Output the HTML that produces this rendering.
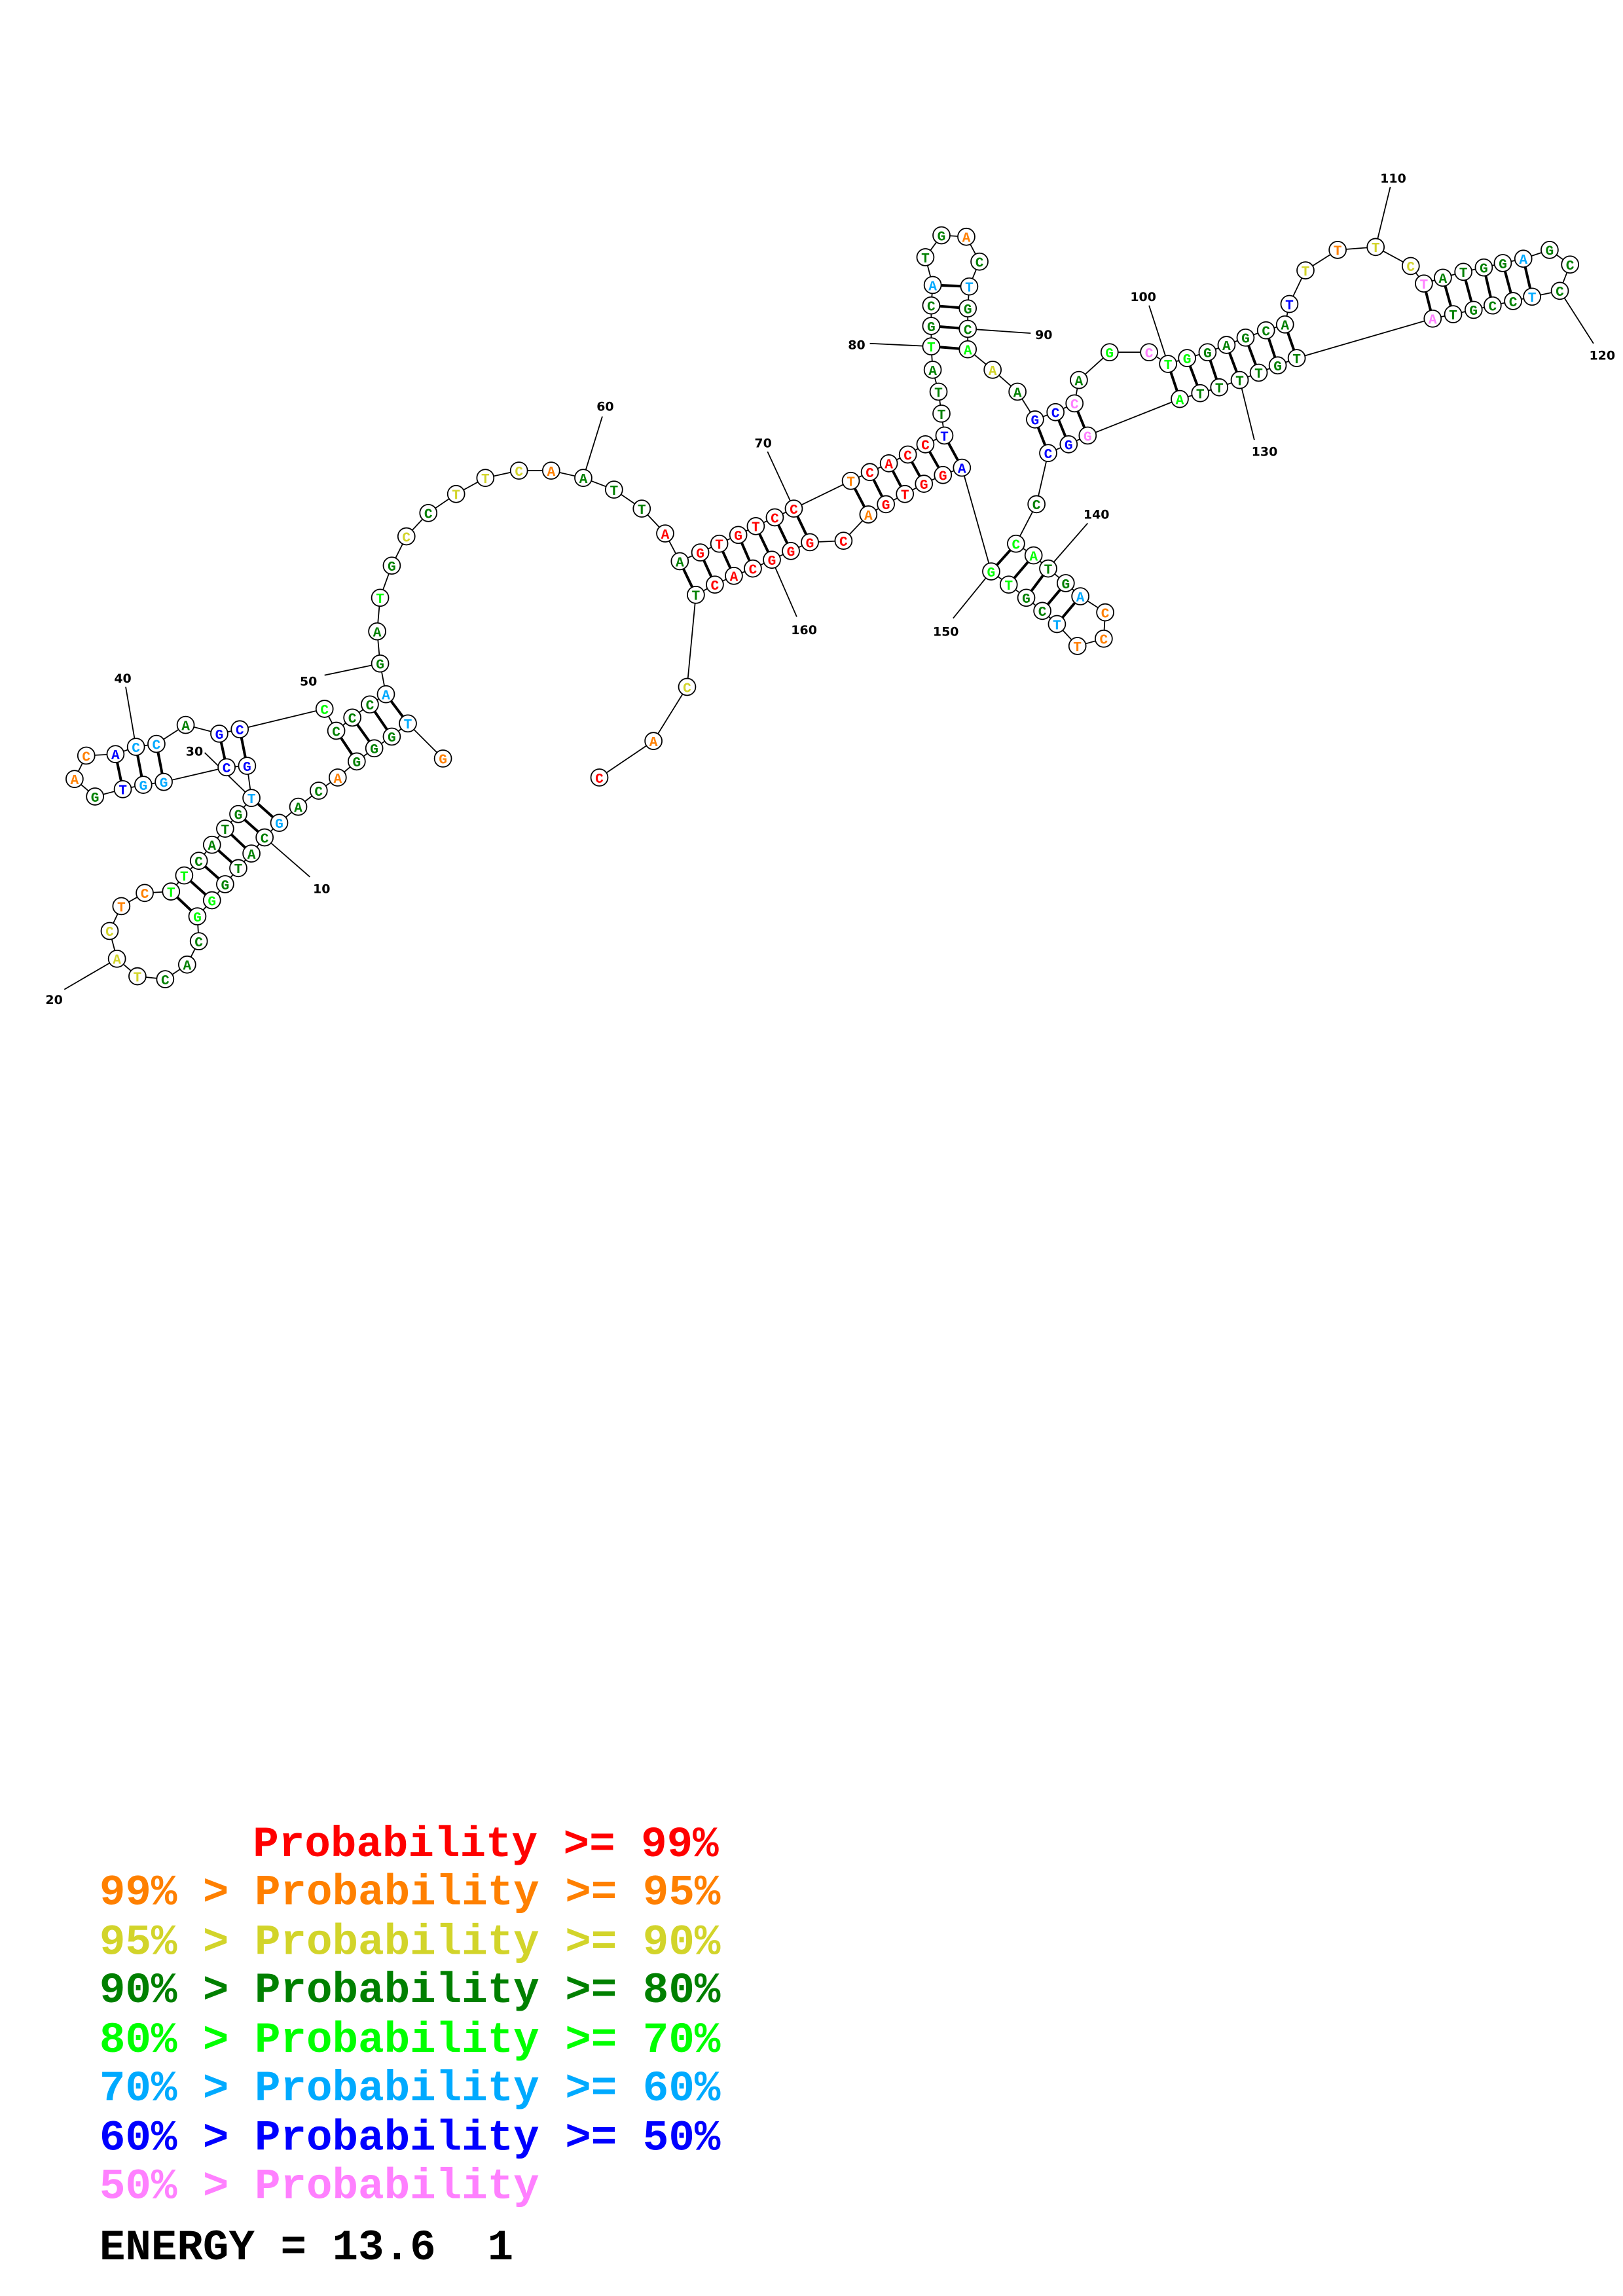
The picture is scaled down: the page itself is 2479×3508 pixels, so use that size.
<!DOCTYPE html>
<html><head><meta charset="utf-8"><style>
html,body{margin:0;padding:0;background:#fff}
svg{display:block}
.b{stroke:#000;stroke-width:0.8;fill:none}
.p{stroke:#000;stroke-width:1.8;fill:none}
circle{fill:#fff;stroke:#000;stroke-width:0.8}
.n text{font-family:"Liberation Mono",monospace;font-weight:bold;font-size:9.5px;text-anchor:middle}
.lab{font-family:"DejaVu Sans","Liberation Sans",sans-serif;font-weight:bold;font-size:8.5px;fill:#000;text-anchor:middle}
.r{fill:#ff0000}.o{fill:#ff8000}.y{fill:#d2d42a}.g{fill:#008000}.l{fill:#00ff00}.c{fill:#00aaff}.u{fill:#0000ff}.k{fill:#ff80ff}
.lg{font-family:"Liberation Mono",monospace;font-weight:bold;font-size:29.5px}
</style></head><body>
<svg width="2479" height="3508" viewBox="0 0 1110.2 1571" xmlns="http://www.w3.org/2000/svg">
<polyline class="b" points="303,519 279,495 268,504 256,512 244,521 231,532 218,541 204,552 191,563 181,573 172,584 163,594 154,605 145,616 135,627 136,644 128,660 113,670 94,668 80,656 75,637 83,620 99,611 117,610 126,599 136,589 145,578 154,567 163,557 172,546 169,524 155,525 112,535 98,537 84,540 65,545 51,533 59,517 79,516 93,511 107,509 127,496 150,502 164,499 222,485 230,500 241,491 253,482 264,475 260,454 258,432 260,409 268,387 278,367 293,351 312,338 332,327 355,322 377,322 399,327 420,335 439,348 455,365 465,384 479,378 492,372 505,366 517,360 530,354 543,348 582,329 595,323 608,317 621,311 633,304 646,298 644,283 642,268 638,253 637,237 637,223 637,209 638,195 633,176 644,161 661,162 670,179 663,196 662,211 662,225 662,239 679,253 696,268 708,287 722,282 735,276 738,260 759,241 786,241 799,249 812,245 826,241 839,236 852,231 866,226 879,222 882,208 893,185 915,171 941,169 965,182 974,194 987,190 1001,186 1015,183 1028,180 1042,177 1060,171 1074,181 1067,199 1048,203 1035,206 1021,209 1008,212 994,215 980,218 887,245 874,250 861,255 848,260 834,265 821,269 807,273 744,298 731,304 717,310 709,345 695,372 707,380 717,389 729,399 739,408 756,419 755,437 737,442 723,427 713,418 702,409 690,400 678,391 658,320 645,325 632,331 619,338 606,345 594,352 577,370 554,371 541,377 528,383 515,389 502,394 489,400 476,407 470,470 447,507 410,532"/>
<g class="p">
<line x1="279" y1="495" x2="264" y2="475"/><line x1="268" y1="504" x2="253" y2="482"/><line x1="256" y1="512" x2="241" y2="491"/><line x1="244" y1="521" x2="230" y2="500"/>
<line x1="191" y1="563" x2="172" y2="546"/><line x1="181" y1="573" x2="163" y2="557"/><line x1="172" y1="584" x2="154" y2="567"/><line x1="163" y1="594" x2="145" y2="578"/><line x1="154" y1="605" x2="136" y2="589"/><line x1="145" y1="616" x2="126" y2="599"/><line x1="135" y1="627" x2="117" y2="610"/>
<line x1="169" y1="524" x2="164" y2="499"/><line x1="155" y1="525" x2="150" y2="502"/>
<line x1="112" y1="535" x2="107" y2="509"/><line x1="98" y1="537" x2="93" y2="511"/><line x1="84" y1="540" x2="79" y2="516"/>
<line x1="465" y1="384" x2="476" y2="407"/><line x1="479" y1="378" x2="489" y2="400"/><line x1="492" y1="372" x2="502" y2="394"/><line x1="505" y1="366" x2="515" y2="389"/><line x1="517" y1="360" x2="528" y2="383"/><line x1="530" y1="354" x2="541" y2="377"/><line x1="543" y1="348" x2="554" y2="371"/>
<line x1="582" y1="329" x2="594" y2="352"/><line x1="595" y1="323" x2="606" y2="345"/><line x1="608" y1="317" x2="619" y2="338"/><line x1="621" y1="311" x2="632" y2="331"/><line x1="633" y1="304" x2="645" y2="325"/><line x1="646" y1="298" x2="658" y2="320"/>
<line x1="637" y1="237" x2="662" y2="239"/><line x1="637" y1="223" x2="662" y2="225"/><line x1="637" y1="209" x2="662" y2="211"/><line x1="638" y1="195" x2="663" y2="196"/>
<line x1="708" y1="287" x2="717" y2="310"/><line x1="722" y1="282" x2="731" y2="304"/><line x1="735" y1="276" x2="744" y2="298"/>
<line x1="799" y1="249" x2="807" y2="273"/><line x1="812" y1="245" x2="821" y2="269"/><line x1="826" y1="241" x2="834" y2="265"/><line x1="839" y1="236" x2="848" y2="260"/><line x1="852" y1="231" x2="861" y2="255"/><line x1="866" y1="226" x2="874" y2="250"/><line x1="879" y1="222" x2="887" y2="245"/>
<line x1="974" y1="194" x2="980" y2="218"/><line x1="987" y1="190" x2="994" y2="215"/><line x1="1001" y1="186" x2="1008" y2="212"/><line x1="1015" y1="183" x2="1021" y2="209"/><line x1="1028" y1="180" x2="1035" y2="206"/><line x1="1042" y1="177" x2="1048" y2="203"/>
<line x1="695" y1="372" x2="678" y2="391"/><line x1="707" y1="380" x2="690" y2="400"/><line x1="717" y1="389" x2="702" y2="409"/><line x1="729" y1="399" x2="713" y2="418"/><line x1="739" y1="408" x2="723" y2="427"/>
</g>
<g class="b">
<line x1="181" y1="573" x2="212" y2="600"/><line x1="80" y1="656" x2="44" y2="677"/><line x1="140" y1="515" x2="172" y2="546"/><line x1="93" y1="511" x2="86" y2="470"/><line x1="222" y1="462" x2="260" y2="454"/><line x1="399" y1="327" x2="412" y2="285"/><line x1="543" y1="348" x2="525" y2="309"/><line x1="637" y1="237" x2="595" y2="235"/><line x1="662" y1="225" x2="705" y2="228"/><line x1="799" y1="249" x2="786" y2="209"/><line x1="941" y1="169" x2="951" y2="128"/><line x1="1067" y1="199" x2="1090" y2="235"/><line x1="848" y1="260" x2="858" y2="301"/><line x1="717" y1="389" x2="744" y2="358"/><line x1="678" y1="391" x2="652" y2="423"/><line x1="528" y1="383" x2="545" y2="422"/>
</g>
<g class="lab">
<text x="220" y="611">10</text><text x="37" y="687">20</text><text x="133" y="517">30</text><text x="84" y="467">40</text><text x="211" y="469">50</text><text x="414" y="281">60</text><text x="522" y="306">70</text><text x="586" y="239">80</text><text x="714" y="232">90</text><text x="782" y="206">100</text><text x="953" y="125">110</text><text x="1096" y="246">120</text><text x="865" y="312">130</text><text x="750" y="355">140</text><text x="647" y="435">150</text><text x="550" y="434">160</text>
</g>
<g class="n">
<circle cx="303" cy="519" r="5.8"/><circle cx="279" cy="495" r="5.8"/><circle cx="268" cy="504" r="5.8"/><circle cx="256" cy="512" r="5.8"/><circle cx="244" cy="521" r="5.8"/><circle cx="231" cy="532" r="5.8"/><circle cx="218" cy="541" r="5.8"/><circle cx="204" cy="552" r="5.8"/><circle cx="191" cy="563" r="5.8"/><circle cx="181" cy="573" r="5.8"/>
<circle cx="172" cy="584" r="5.8"/><circle cx="163" cy="594" r="5.8"/><circle cx="154" cy="605" r="5.8"/><circle cx="145" cy="616" r="5.8"/><circle cx="135" cy="627" r="5.8"/><circle cx="136" cy="644" r="5.8"/><circle cx="128" cy="660" r="5.8"/><circle cx="113" cy="670" r="5.8"/><circle cx="94" cy="668" r="5.8"/><circle cx="80" cy="656" r="5.8"/>
<circle cx="75" cy="637" r="5.8"/><circle cx="83" cy="620" r="5.8"/><circle cx="99" cy="611" r="5.8"/><circle cx="117" cy="610" r="5.8"/><circle cx="126" cy="599" r="5.8"/><circle cx="136" cy="589" r="5.8"/><circle cx="145" cy="578" r="5.8"/><circle cx="154" cy="567" r="5.8"/><circle cx="163" cy="557" r="5.8"/><circle cx="172" cy="546" r="5.8"/>
<circle cx="169" cy="524" r="5.8"/><circle cx="155" cy="525" r="5.8"/><circle cx="112" cy="535" r="5.8"/><circle cx="98" cy="537" r="5.8"/><circle cx="84" cy="540" r="5.8"/><circle cx="65" cy="545" r="5.8"/><circle cx="51" cy="533" r="5.8"/><circle cx="59" cy="517" r="5.8"/><circle cx="79" cy="516" r="5.8"/><circle cx="93" cy="511" r="5.8"/>
<circle cx="107" cy="509" r="5.8"/><circle cx="127" cy="496" r="5.8"/><circle cx="150" cy="502" r="5.8"/><circle cx="164" cy="499" r="5.8"/><circle cx="222" cy="485" r="5.8"/><circle cx="230" cy="500" r="5.8"/><circle cx="241" cy="491" r="5.8"/><circle cx="253" cy="482" r="5.8"/><circle cx="264" cy="475" r="5.8"/><circle cx="260" cy="454" r="5.8"/>
<circle cx="258" cy="432" r="5.8"/><circle cx="260" cy="409" r="5.8"/><circle cx="268" cy="387" r="5.8"/><circle cx="278" cy="367" r="5.8"/><circle cx="293" cy="351" r="5.8"/><circle cx="312" cy="338" r="5.8"/><circle cx="332" cy="327" r="5.8"/><circle cx="355" cy="322" r="5.8"/><circle cx="377" cy="322" r="5.8"/><circle cx="399" cy="327" r="5.8"/>
<circle cx="420" cy="335" r="5.8"/><circle cx="439" cy="348" r="5.8"/><circle cx="455" cy="365" r="5.8"/><circle cx="465" cy="384" r="5.8"/><circle cx="479" cy="378" r="5.8"/><circle cx="492" cy="372" r="5.8"/><circle cx="505" cy="366" r="5.8"/><circle cx="517" cy="360" r="5.8"/><circle cx="530" cy="354" r="5.8"/><circle cx="543" cy="348" r="5.8"/>
<circle cx="582" cy="329" r="5.8"/><circle cx="595" cy="323" r="5.8"/><circle cx="608" cy="317" r="5.8"/><circle cx="621" cy="311" r="5.8"/><circle cx="633" cy="304" r="5.8"/><circle cx="646" cy="298" r="5.8"/><circle cx="644" cy="283" r="5.8"/><circle cx="642" cy="268" r="5.8"/><circle cx="638" cy="253" r="5.8"/><circle cx="637" cy="237" r="5.8"/>
<circle cx="637" cy="223" r="5.8"/><circle cx="637" cy="209" r="5.8"/><circle cx="638" cy="195" r="5.8"/><circle cx="633" cy="176" r="5.8"/><circle cx="644" cy="161" r="5.8"/><circle cx="661" cy="162" r="5.8"/><circle cx="670" cy="179" r="5.8"/><circle cx="663" cy="196" r="5.8"/><circle cx="662" cy="211" r="5.8"/><circle cx="662" cy="225" r="5.8"/>
<circle cx="662" cy="239" r="5.8"/><circle cx="679" cy="253" r="5.8"/><circle cx="696" cy="268" r="5.8"/><circle cx="708" cy="287" r="5.8"/><circle cx="722" cy="282" r="5.8"/><circle cx="735" cy="276" r="5.8"/><circle cx="738" cy="260" r="5.8"/><circle cx="759" cy="241" r="5.8"/><circle cx="786" cy="241" r="5.8"/><circle cx="799" cy="249" r="5.8"/>
<circle cx="812" cy="245" r="5.8"/><circle cx="826" cy="241" r="5.8"/><circle cx="839" cy="236" r="5.8"/><circle cx="852" cy="231" r="5.8"/><circle cx="866" cy="226" r="5.8"/><circle cx="879" cy="222" r="5.8"/><circle cx="882" cy="208" r="5.8"/><circle cx="893" cy="185" r="5.8"/><circle cx="915" cy="171" r="5.8"/><circle cx="941" cy="169" r="5.8"/>
<circle cx="965" cy="182" r="5.8"/><circle cx="974" cy="194" r="5.8"/><circle cx="987" cy="190" r="5.8"/><circle cx="1001" cy="186" r="5.8"/><circle cx="1015" cy="183" r="5.8"/><circle cx="1028" cy="180" r="5.8"/><circle cx="1042" cy="177" r="5.8"/><circle cx="1060" cy="171" r="5.8"/><circle cx="1074" cy="181" r="5.8"/><circle cx="1067" cy="199" r="5.8"/>
<circle cx="1048" cy="203" r="5.8"/><circle cx="1035" cy="206" r="5.8"/><circle cx="1021" cy="209" r="5.8"/><circle cx="1008" cy="212" r="5.8"/><circle cx="994" cy="215" r="5.8"/><circle cx="980" cy="218" r="5.8"/><circle cx="887" cy="245" r="5.8"/><circle cx="874" cy="250" r="5.8"/><circle cx="861" cy="255" r="5.8"/><circle cx="848" cy="260" r="5.8"/>
<circle cx="834" cy="265" r="5.8"/><circle cx="821" cy="269" r="5.8"/><circle cx="807" cy="273" r="5.8"/><circle cx="744" cy="298" r="5.8"/><circle cx="731" cy="304" r="5.8"/><circle cx="717" cy="310" r="5.8"/><circle cx="709" cy="345" r="5.8"/><circle cx="695" cy="372" r="5.8"/><circle cx="707" cy="380" r="5.8"/><circle cx="717" cy="389" r="5.8"/>
<circle cx="729" cy="399" r="5.8"/><circle cx="739" cy="408" r="5.8"/><circle cx="756" cy="419" r="5.8"/><circle cx="755" cy="437" r="5.8"/><circle cx="737" cy="442" r="5.8"/><circle cx="723" cy="427" r="5.8"/><circle cx="713" cy="418" r="5.8"/><circle cx="702" cy="409" r="5.8"/><circle cx="690" cy="400" r="5.8"/><circle cx="678" cy="391" r="5.8"/>
<circle cx="658" cy="320" r="5.8"/><circle cx="645" cy="325" r="5.8"/><circle cx="632" cy="331" r="5.8"/><circle cx="619" cy="338" r="5.8"/><circle cx="606" cy="345" r="5.8"/><circle cx="594" cy="352" r="5.8"/><circle cx="577" cy="370" r="5.8"/><circle cx="554" cy="371" r="5.8"/><circle cx="541" cy="377" r="5.8"/><circle cx="528" cy="383" r="5.8"/>
<circle cx="515" cy="389" r="5.8"/><circle cx="502" cy="394" r="5.8"/><circle cx="489" cy="400" r="5.8"/><circle cx="476" cy="407" r="5.8"/><circle cx="470" cy="470" r="5.8"/><circle cx="447" cy="507" r="5.8"/><circle cx="410" cy="532" r="5.8"/>

<text class="o" x="303" y="522.5">G</text><text class="c" x="279" y="498.5">T</text><text class="g" x="268" y="507.5">G</text><text class="g" x="256" y="515.5">G</text><text class="g" x="244" y="524.5">G</text><text class="o" x="231" y="535.5">A</text><text class="g" x="218" y="544.5">C</text><text class="g" x="204" y="555.5">A</text><text class="c" x="191" y="566.5">G</text><text class="g" x="181" y="576.5">C</text>
<text class="g" x="172" y="587.5">A</text><text class="g" x="163" y="597.5">T</text><text class="g" x="154" y="608.5">G</text><text class="l" x="145" y="619.5">G</text><text class="l" x="135" y="630.5">G</text><text class="g" x="136" y="647.5">C</text><text class="g" x="128" y="663.5">A</text><text class="g" x="113" y="673.5">C</text><text class="y" x="94" y="671.5">T</text><text class="y" x="80" y="659.5">A</text>
<text class="y" x="75" y="640.5">C</text><text class="o" x="83" y="623.5">T</text><text class="o" x="99" y="614.5">C</text><text class="l" x="117" y="613.5">T</text><text class="l" x="126" y="602.5">T</text><text class="g" x="136" y="592.5">C</text><text class="g" x="145" y="581.5">A</text><text class="g" x="154" y="570.5">T</text><text class="g" x="163" y="560.5">G</text><text class="c" x="172" y="549.5">T</text>
<text class="u" x="169" y="527.5">G</text><text class="u" x="155" y="528.5">C</text><text class="c" x="112" y="538.5">G</text><text class="c" x="98" y="540.5">G</text><text class="u" x="84" y="543.5">T</text><text class="g" x="65" y="548.5">G</text><text class="o" x="51" y="536.5">A</text><text class="o" x="59" y="520.5">C</text><text class="u" x="79" y="519.5">A</text><text class="c" x="93" y="514.5">C</text>
<text class="c" x="107" y="512.5">C</text><text class="g" x="127" y="499.5">A</text><text class="u" x="150" y="505.5">G</text><text class="u" x="164" y="502.5">C</text><text class="l" x="222" y="488.5">C</text><text class="g" x="230" y="503.5">C</text><text class="g" x="241" y="494.5">C</text><text class="g" x="253" y="485.5">C</text><text class="c" x="264" y="478.5">A</text><text class="g" x="260" y="457.5">G</text>
<text class="g" x="258" y="435.5">A</text><text class="l" x="260" y="412.5">T</text><text class="g" x="268" y="390.5">G</text><text class="y" x="278" y="370.5">C</text><text class="g" x="293" y="354.5">C</text><text class="y" x="312" y="341.5">T</text><text class="y" x="332" y="330.5">T</text><text class="y" x="355" y="325.5">C</text><text class="o" x="377" y="325.5">A</text><text class="g" x="399" y="330.5">A</text>
<text class="g" x="420" y="338.5">T</text><text class="g" x="439" y="351.5">T</text><text class="r" x="455" y="368.5">A</text><text class="g" x="465" y="387.5">A</text><text class="r" x="479" y="381.5">G</text><text class="r" x="492" y="375.5">T</text><text class="r" x="505" y="369.5">G</text><text class="r" x="517" y="363.5">T</text><text class="r" x="530" y="357.5">C</text><text class="r" x="543" y="351.5">C</text>
<text class="o" x="582" y="332.5">T</text><text class="r" x="595" y="326.5">C</text><text class="r" x="608" y="320.5">A</text><text class="r" x="621" y="314.5">C</text><text class="r" x="633" y="307.5">C</text><text class="u" x="646" y="301.5">T</text><text class="g" x="644" y="286.5">T</text><text class="g" x="642" y="271.5">T</text><text class="g" x="638" y="256.5">A</text><text class="l" x="637" y="240.5">T</text>
<text class="g" x="637" y="226.5">G</text><text class="g" x="637" y="212.5">C</text><text class="c" x="638" y="198.5">A</text><text class="g" x="633" y="179.5">T</text><text class="g" x="644" y="164.5">G</text><text class="o" x="661" y="165.5">A</text><text class="g" x="670" y="182.5">C</text><text class="c" x="663" y="199.5">T</text><text class="g" x="662" y="214.5">G</text><text class="g" x="662" y="228.5">C</text>
<text class="l" x="662" y="242.5">A</text><text class="y" x="679" y="256.5">A</text><text class="g" x="696" y="271.5">A</text><text class="u" x="708" y="290.5">G</text><text class="u" x="722" y="285.5">C</text><text class="k" x="735" y="279.5">C</text><text class="g" x="738" y="263.5">A</text><text class="l" x="759" y="244.5">G</text><text class="k" x="786" y="244.5">C</text><text class="l" x="799" y="252.5">T</text>
<text class="l" x="812" y="248.5">G</text><text class="g" x="826" y="244.5">G</text><text class="g" x="839" y="239.5">A</text><text class="g" x="852" y="234.5">G</text><text class="g" x="866" y="229.5">C</text><text class="g" x="879" y="225.5">A</text><text class="u" x="882" y="211.5">T</text><text class="y" x="893" y="188.5">T</text><text class="o" x="915" y="174.5">T</text><text class="y" x="941" y="172.5">T</text>
<text class="y" x="965" y="185.5">C</text><text class="k" x="974" y="197.5">T</text><text class="g" x="987" y="193.5">A</text><text class="g" x="1001" y="189.5">T</text><text class="g" x="1015" y="186.5">G</text><text class="g" x="1028" y="183.5">G</text><text class="c" x="1042" y="180.5">A</text><text class="g" x="1060" y="174.5">G</text><text class="g" x="1074" y="184.5">C</text><text class="g" x="1067" y="202.5">C</text>
<text class="c" x="1048" y="206.5">T</text><text class="g" x="1035" y="209.5">C</text><text class="g" x="1021" y="212.5">C</text><text class="g" x="1008" y="215.5">G</text><text class="g" x="994" y="218.5">T</text><text class="k" x="980" y="221.5">A</text><text class="g" x="887" y="248.5">T</text><text class="g" x="874" y="253.5">G</text><text class="g" x="861" y="258.5">T</text><text class="g" x="848" y="263.5">T</text>
<text class="g" x="834" y="268.5">T</text><text class="g" x="821" y="272.5">T</text><text class="l" x="807" y="276.5">A</text><text class="k" x="744" y="301.5">G</text><text class="u" x="731" y="307.5">G</text><text class="u" x="717" y="313.5">C</text><text class="g" x="709" y="348.5">C</text><text class="l" x="695" y="375.5">C</text><text class="l" x="707" y="383.5">A</text><text class="g" x="717" y="392.5">T</text>
<text class="g" x="729" y="402.5">G</text><text class="c" x="739" y="411.5">A</text><text class="o" x="756" y="422.5">C</text><text class="o" x="755" y="440.5">C</text><text class="o" x="737" y="445.5">T</text><text class="c" x="723" y="430.5">T</text><text class="g" x="713" y="421.5">C</text><text class="g" x="702" y="412.5">G</text><text class="l" x="690" y="403.5">T</text><text class="l" x="678" y="394.5">G</text>
<text class="u" x="658" y="323.5">A</text><text class="r" x="645" y="328.5">G</text><text class="r" x="632" y="334.5">G</text><text class="r" x="619" y="341.5">T</text><text class="r" x="606" y="348.5">G</text><text class="o" x="594" y="355.5">A</text><text class="r" x="577" y="373.5">C</text><text class="r" x="554" y="374.5">G</text><text class="r" x="541" y="380.5">G</text><text class="r" x="528" y="386.5">G</text>
<text class="r" x="515" y="392.5">C</text><text class="r" x="502" y="397.5">A</text><text class="r" x="489" y="403.5">C</text><text class="g" x="476" y="410.5">T</text><text class="y" x="470" y="473.5">C</text><text class="o" x="447" y="510.5">A</text><text class="r" x="410" y="535.5">C</text>
</g>
<g class="lg">
<text class="r" x="173" y="1270">Probability &gt;= 99%</text>
<text class="o" x="68" y="1303">99% &gt; Probability &gt;= 95%</text>
<text class="y" x="68" y="1337">95% &gt; Probability &gt;= 90%</text>
<text class="g" x="68" y="1370">90% &gt; Probability &gt;= 80%</text>
<text class="l" x="68" y="1404">80% &gt; Probability &gt;= 70%</text>
<text class="c" x="68" y="1437">70% &gt; Probability &gt;= 60%</text>
<text class="u" x="68" y="1471">60% &gt; Probability &gt;= 50%</text>
<text class="k" x="68" y="1504">50% &gt; Probability</text>
<text fill="#000" x="68" y="1546">ENERGY = 13.6&#160;&#160;1</text>
</g>
</svg>
</body></html>
